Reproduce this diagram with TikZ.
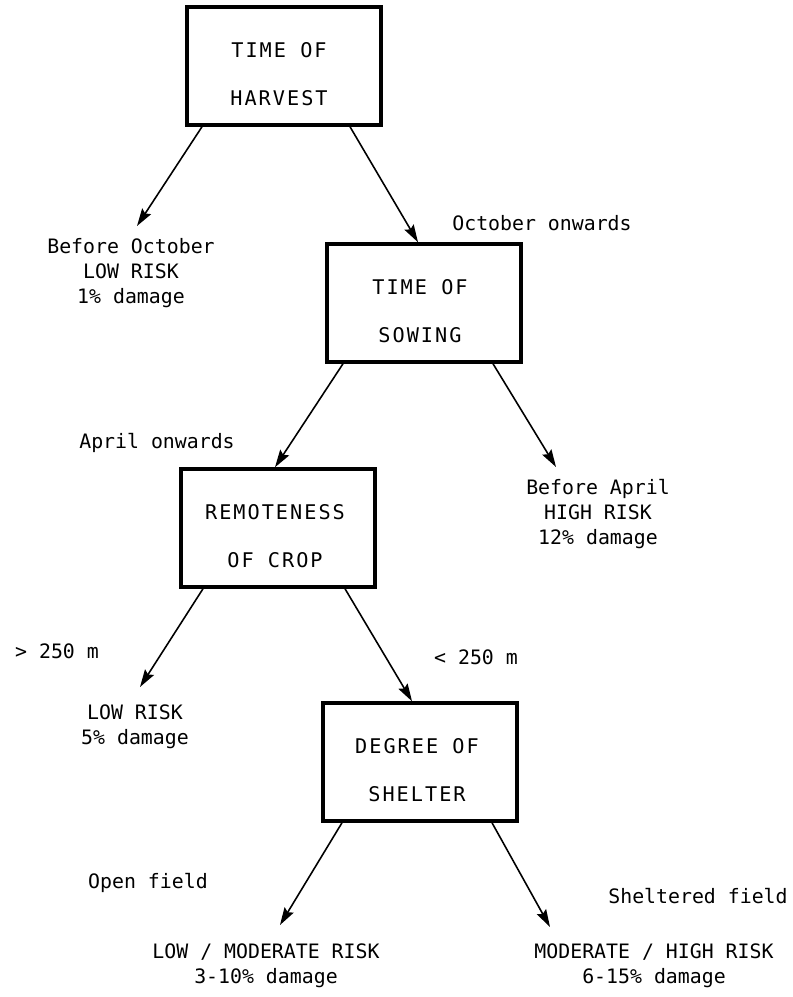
\documentclass[tikz,border=0pt]{standalone}
\usepackage{fontspec}
\setmonofont{DejaVu Sans Mono}
\newfontfamily\boxfont[LetterSpace=10]{DejaVu Sans Mono}
\usetikzlibrary{arrows.meta,calc}

\begin{document}
\begin{tikzpicture}[x=0.02cm,y=-0.02cm,
  dbox/.style={rectangle,draw,line width=2pt,minimum width=3.88cm,minimum height=2.36cm,inner sep=0pt},
  btxt/.style={align=center,font=\boxfont\fontsize{11.5}{27}\selectfont,inner sep=0pt},
  res/.style={align=center,font=\ttfamily\fontsize{11.3}{14.2}\selectfont,inner sep=0pt},
  fl/.style={-{Stealth[length=10pt,width=6pt,inset=1.5pt]},line width=0.9pt}
]
  \useasboundingbox (0,0) rectangle (792,997);

  % decision boxes
  \node[dbox](harv) at (284,66) {};
  \node[btxt](harvT) at ($(harv.center)+(-5,8)$) {TIME OF\\HARVEST};
  \node[dbox](sow)  at (424,303) {};
  \node[btxt](sowT) at ($(sow.center)+(-4,8)$) {TIME OF\\SOWING};
  \node[dbox](rem)  at (278,528) {};
  \node[btxt](remT) at ($(rem.center)+(-3,8)$) {REMOTENESS\\OF CROP};
  \node[dbox](shel) at (420,762) {};
  \node[btxt](shelT)at ($(shel.center)+(-3,8)$) {DEGREE OF\\SHELTER};

  % outcomes
  \node[res](early) at (131,273) {Before October\\LOW RISK\\1\% damage};
  \node[res](prev)  at (598,514) {Before April\\HIGH RISK\\12\% damage};
  \node[res](far)   at (135,727) {LOW RISK\\5\% damage};
  \node[res](open)  at (266,966) {LOW / MODERATE RISK\\3-10\% damage};
  \node[res](shelt) at (654,966) {MODERATE / HIGH RISK\\6-15\% damage};

  % branch labels
  \node[res](octOn) at (542,223) {October onwards};
  \node[res](aprOn) at (157,443) {April onwards};
  \node[res](gtD)   at (57,651)  {> 250 m};
  \node[res](ltD)   at (476,657) {< 250 m};
  \node[res](openL) at (148,883) {Open field};
  \node[res](sheL)  at (698,896) {Sheltered field};

  % arrow tips above the outcomes
  \coordinate (earlyTip) at (137,226);
  \coordinate (prevTip)  at (556,467);
  \coordinate (farTip)   at (140,687);
  \coordinate (openTip)  at (280,925);
  \coordinate (sheltTip) at (550,927);

  \draw[fl]($(harv.south)+(-82,0)$)--(earlyTip);
  \draw[fl]($(harv.south)+(66,0)$)--($(sow.north)+(-6,0)$);
  \draw[fl]($(sow.south)+(-81,0)$)--($(rem.north)+(-3,0)$);
  \draw[fl]($(sow.south)+(69,0)$)--(prevTip);
  \draw[fl]($(rem.south)+(-75,0)$)--(farTip);
  \draw[fl]($(rem.south)+(67,0)$)--($(shel.north)+(-8,0)$);
  \draw[fl]($(shel.south)+(-78,0)$)--(openTip);
  \draw[fl]($(shel.south)+(72,0)$)--(sheltTip);
\end{tikzpicture}
\end{document}
